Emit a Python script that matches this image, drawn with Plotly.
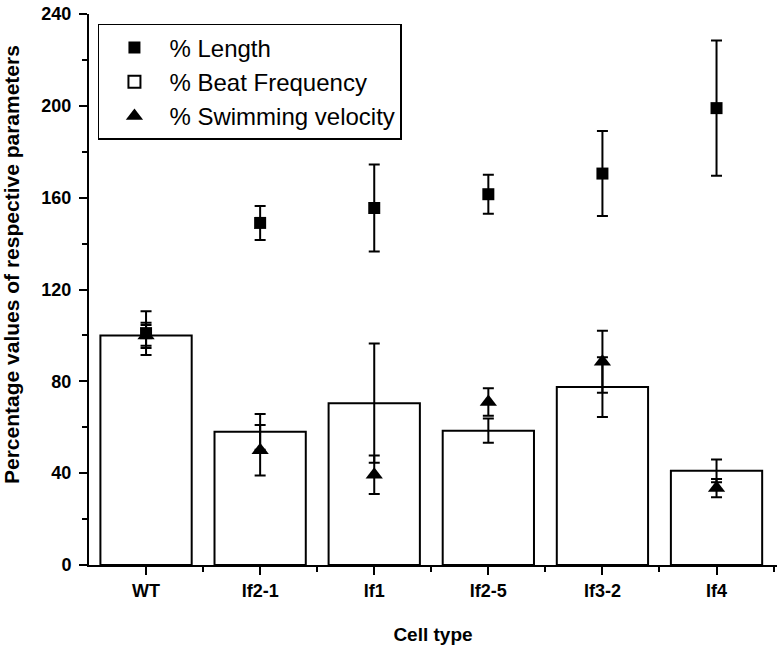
import plotly.graph_objects as go

cats = ["WT", "If2-1", "If1", "If2-5", "If3-2", "If4"]
length = [101, 149, 155.5, 161.5, 170.5, 199]
length_err = [9.5, 7.4, 19, 8.5, 18.5, 29.5]
beat = [100, 58, 70.5, 58.5, 77.5, 41]
beat_err = [4.5, 7.8, 26, 5.3, 13, 5]
vel = [100, 50, 39.3, 71, 88.5, 33.5]
vel_err = [5.5, 11, 8.4, 6, 13.5, 4]
yticks = [0, 40, 80, 120, 160, 200, 240]

xpos = list(range(len(cats)))
xbounds = [i + 0.5 for i in xpos]
yminor = [(a + b) / 2 for a, b in zip(yticks[:-1], yticks[1:])]

FONT = "Liberation Sans, Arial, sans-serif"
err_style = dict(type="data", color="black", thickness=2, width=5.5)

fig = go.Figure()
fig.add_trace(go.Scatter(
    x=xpos, y=length, mode="markers", name="% Length",
    marker=dict(symbol="square", size=12, color="black"),
    error_y=dict(array=length_err, **err_style),
))
fig.add_trace(go.Bar(
    x=xpos, y=beat, name="% Beat Frequency", width=0.8,
    marker=dict(color="white", line=dict(color="black", width=2)),
    error_y=dict(array=beat_err, **err_style),
))
fig.add_trace(go.Scatter(
    x=xpos, y=vel, mode="markers", name="% Swimming velocity",
    marker=dict(symbol="triangle-up", size=15, color="black"),
    error_y=dict(array=vel_err, **err_style),
))

fig.update_layout(
    width=778, height=648,
    margin=dict(l=89, r=1, t=14, b=83),
    paper_bgcolor="white", plot_bgcolor="white",
    font=dict(family=FONT, color="black"),
    showlegend=True,
    legend=dict(
        x=0.013, y=0.982, xanchor="left", yanchor="top",
        bordercolor="black", borderwidth=1.5, bgcolor="white",
        font=dict(size=24, family=FONT),
        itemwidth=60, tracegroupgap=0,
    ),
    xaxis=dict(
        range=[-0.5, 5.53], tickmode="array", tickvals=xpos, ticktext=cats,
        showline=True, linecolor="black", linewidth=2, mirror=False,
        ticks="outside", ticklen=8, tickwidth=2, tickcolor="black",
        tickfont=dict(size=18, family=FONT, weight="bold"),
        ticklabelstandoff=0,
        minor=dict(tickmode="array", tickvals=xbounds, ticks="outside", ticklen=5,
                   tickwidth=2, tickcolor="black"),
        showgrid=False, zeroline=False,
        title=dict(text="<b>Cell type</b>", font=dict(size=19), standoff=28),
    ),
    yaxis=dict(
        range=[0, 240], tickmode="array", tickvals=yticks,
        showline=True, linecolor="black", linewidth=2,
        ticks="outside", ticklen=8, tickwidth=2, tickcolor="black",
        tickfont=dict(size=18, family=FONT, weight="bold"),
        ticklabelstandoff=4, ticklabeloverflow="allow",
        minor=dict(tickmode="array", tickvals=yminor, ticks="outside", ticklen=5,
                   tickwidth=2, tickcolor="black"),
        showgrid=False, zeroline=False,
    ),
    annotations=[dict(
        text="<b>Percentage values of respective parameters</b>",
        xref="paper", yref="paper", x=0, y=(565 - 265) / 551.0,
        xshift=-78, xanchor="center", yanchor="middle", textangle=-90,
        showarrow=False, font=dict(size=21, family=FONT),
    )],
)

fig.write_html("out.html", config={"displayModeBar": False},
               post_script="document.body.style.margin='0';")
